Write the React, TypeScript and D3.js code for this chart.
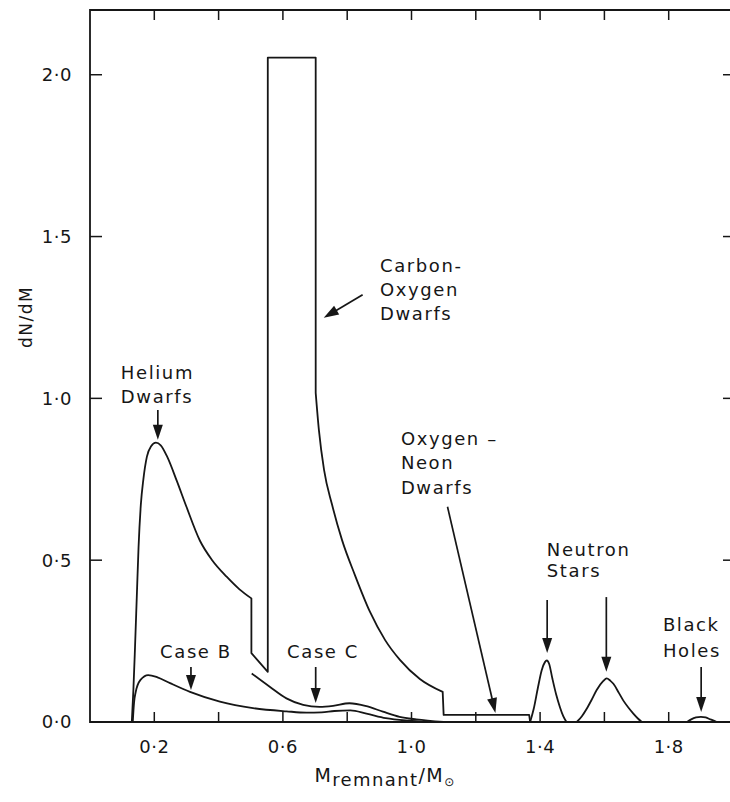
import React from "react";
import * as d3 from "d3";

type Pt = [number, number];

const WIDTH = 730;
const HEIGHT = 802;

// axis extents (remnant mass in solar masses, dN/dM)
const xDomain: Pt = [0, 2.0];
const yDomain: Pt = [0, 2.2];
const xTicks = [0.2, 0.4, 0.6, 0.8, 1.0, 1.2, 1.4, 1.6, 1.8];
const xTickLabels = [0.2, 0.6, 1.0, 1.4, 1.8];
const yTicks = [0, 0.5, 1.0, 1.5, 2.0];

// total remnant distribution: helium dwarf hump
const heliumHump: Pt[] = [
  [0.13, 0], [0.135, 0.1], [0.14, 0.23], [0.146, 0.4], [0.151, 0.54],
  [0.158, 0.67], [0.166, 0.75], [0.177, 0.82], [0.19, 0.852], [0.205, 0.863],
  [0.22, 0.855], [0.24, 0.82], [0.27, 0.745], [0.3, 0.665], [0.342, 0.56],
  [0.38, 0.5], [0.425, 0.449], [0.465, 0.41], [0.502, 0.382],
];
// step down at 0.5 and the carbon-oxygen plateau
const coPlateau: Pt[] = [
  [0.502, 0.382], [0.502, 0.213], [0.553, 0.155], [0.553, 2.053],
  [0.702, 2.053], [0.702, 1.017],
];
// carbon-oxygen tail
const coTail: Pt[] = [
  [0.702, 1.017], [0.712, 0.902], [0.728, 0.779], [0.753, 0.671],
  [0.784, 0.562], [0.824, 0.454], [0.871, 0.34], [0.918, 0.253],
  [0.964, 0.192], [1.026, 0.133], [1.097, 0.093],
];
// oxygen-neon dwarf shelf
const oneShelf: Pt[] = [
  [1.097, 0.093], [1.1, 0.022], [1.366, 0.022], [1.369, 0],
];

// case B contribution
const caseB: Pt[] = [
  [0.133, 0], [0.137, 0.06], [0.142, 0.092], [0.157, 0.13], [0.181, 0.145],
  [0.21, 0.138], [0.249, 0.12], [0.311, 0.093], [0.404, 0.063], [0.507, 0.043],
  [0.611, 0.033], [0.673, 0.029], [0.72, 0.03], [0.76, 0.034], [0.81, 0.036],
  [0.86, 0.026], [0.92, 0.012], [0.99, 0.004], [1.05, 0],
];
// case C contribution
const caseC: Pt[] = [
  [0.503, 0.15], [0.559, 0.109], [0.611, 0.073], [0.663, 0.053], [0.714, 0.047],
  [0.756, 0.05], [0.807, 0.058], [0.86, 0.049], [0.911, 0.032], [0.963, 0.016],
  [1.015, 0.008], [1.1, 0],
];

// neutron stars and black holes
const neutronLow: Pt[] = [
  [1.369, 0], [1.38, 0.04], [1.393, 0.105], [1.405, 0.16], [1.415, 0.185],
  [1.421, 0.19], [1.428, 0.18], [1.438, 0.135], [1.45, 0.085], [1.462, 0.045],
  [1.472, 0.018], [1.482, 0],
];
const neutronHigh: Pt[] = [
  [1.514, 0], [1.53, 0.018], [1.545, 0.041], [1.56, 0.068], [1.576, 0.099],
  [1.596, 0.126], [1.607, 0.135], [1.618, 0.128], [1.628, 0.118], [1.645, 0.09],
  [1.659, 0.066], [1.675, 0.044], [1.69, 0.026], [1.705, 0.01], [1.716, 0],
];
const blackHoles: Pt[] = [
  [1.857, 0], [1.87, 0.008], [1.885, 0.014], [1.9, 0.016], [1.915, 0.014],
  [1.93, 0.008], [1.95, 0],
];

// annotation arrows: [from, to] in data units
const arrows: [Pt, Pt][] = [
  [[0.211, 0.964], [0.211, 0.872]],
  [[0.314, 0.17], [0.314, 0.099]],
  [[0.702, 0.17], [0.702, 0.059]],
  [[0.848, 1.32], [0.727, 1.249]],
  [[1.112, 0.665], [1.261, 0.028]],
  [[1.422, 0.377], [1.422, 0.213]],
  [[1.606, 0.386], [1.606, 0.155]],
  [[1.901, 0.17], [1.901, 0.031]],
];

// labels: anchor (data units), text lines, line spacing (px)
const labelAnchors: Pt[] = [
  [0.096, 1.06], [0.218, 0.198], [0.613, 0.198], [0.902, 1.39],
  [0.967, 0.856], [1.421, 0.513], [1.782, 0.281],
];
const labelLines: string[][] = [
  ["Helium", "Dwarfs"],
  ["Case B"],
  ["Case C"],
  ["Carbon-", "Oxygen", "Dwarfs"],
  ["Oxygen –", "Neon", "Dwarfs"],
  ["Neutron", "Stars"],
  ["Black", "Holes"],
];
const labelSpacing = [24, 24, 24, 24, 24.5, 21, 26];

const x = d3.scaleLinear().domain(xDomain).range([90, 733]);
const y = d3.scaleLinear().domain(yDomain).range([722, 10]);

const smooth = d3
  .line<Pt>()
  .x((d) => x(d[0]))
  .y((d) => y(d[1]))
  .curve(d3.curveMonotoneX);
const straight = d3
  .line<Pt>()
  .x((d) => x(d[0]))
  .y((d) => y(d[1]));

const cont = (p: string | null) => (p ? "L" + p.slice(1) : "");

const totalPath =
  (smooth(heliumHump) || "") +
  cont(straight(coPlateau)) +
  cont(smooth(coTail)) +
  cont(straight(oneShelf));

const fmt = (v: number) => d3.format(".1f")(v).replace(".", "·");

const INK = "#161616";
const FONT = "'DejaVu Sans', sans-serif";

function Arrow({ from, to }: { from: Pt; to: Pt }) {
  const x1 = x(from[0]);
  const y1 = y(from[1]);
  const x2 = x(to[0]);
  const y2 = y(to[1]);
  const len = Math.hypot(x2 - x1, y2 - y1);
  const ux = (x2 - x1) / len;
  const uy = (y2 - y1) / len;
  const head = 15;
  const half = 5;
  const bx = x2 - ux * head;
  const by = y2 - uy * head;
  const pts = [
    [x2, y2],
    [bx - uy * half, by + ux * half],
    [bx + uy * half, by - ux * half],
  ]
    .map((p) => p.join(","))
    .join(" ");
  return (
    <g>
      <line x1={x1} y1={y1} x2={bx + ux * 2} y2={by + uy * 2} stroke={INK} strokeWidth={1.7} />
      <polygon points={pts} fill={INK} />
    </g>
  );
}

export default function App() {
  const [x0, x1] = x.range();
  const [y0, y1] = y.range();
  return (
    <svg
      width={WIDTH}
      height={HEIGHT}
      style={{ position: "absolute", left: 0, top: 0, background: "#fff" }}
      fontFamily={FONT}
    >
      <rect width={WIDTH} height={HEIGHT} fill="#fff" />
      {/* frame: top, left and bottom edges */}
      <path
        d={`M${x1},${y1}H${x0}V${y0}H${x1}`}
        fill="none"
        stroke={INK}
        strokeWidth={1.8}
      />
      {xTicks.map((t) => (
        <g key={"xt" + t}>
          <line x1={x(t)} x2={x(t)} y1={y0} y2={y0 - 10} stroke={INK} strokeWidth={1.5} />
          <line x1={x(t)} x2={x(t)} y1={y1} y2={y1 + 10} stroke={INK} strokeWidth={1.5} />
        </g>
      ))}
      {yTicks.map((t) => (
        <g key={"yt" + t}>
          <line x1={x0} x2={x0 + 12} y1={y(t)} y2={y(t)} stroke={INK} strokeWidth={1.5} />
          <line x1={x1} x2={x1 - 10} y1={y(t)} y2={y(t)} stroke={INK} strokeWidth={1.5} />
          <text x={72} y={y(t)} dy="0.36em" textAnchor="end" fontSize={18} letterSpacing={0.5} fill={INK}>
            {fmt(t)}
          </text>
        </g>
      ))}
      {xTickLabels.map((t) => (
        <text key={"xl" + t} x={x(t)} y={753} textAnchor="middle" fontSize={18} letterSpacing={0.5} fill={INK}>
          {fmt(t)}
        </text>
      ))}
      <text
        transform="translate(32,317) rotate(-90)"
        textAnchor="middle"
        fontSize={17}
        letterSpacing={1.5}
        fill={INK}
      >
        dN/dM
      </text>
      <text x={385} y={782} textAnchor="middle" fontSize={19} fill={INK} letterSpacing={1.4}>
        <tspan>M</tspan>
        <tspan dy={4} fontSize={18}>remnant</tspan>
        <tspan dy={-4}>/M</tspan>
        <tspan dy={4} fontSize={12}>⊙</tspan>
      </text>

      {/* distributions */}
      <g fill="none" stroke={INK} strokeWidth={1.8} strokeLinejoin="round">
        <path d={totalPath} />
        <path d={smooth(caseB) || ""} />
        <path d={smooth(caseC) || ""} />
        <path d={smooth(neutronLow) || ""} />
        <path d={smooth(neutronHigh) || ""} />
        <path d={smooth(blackHoles) || ""} />
      </g>

      {arrows.map((a, i) => (
        <Arrow key={"a" + i} from={a[0]} to={a[1]} />
      ))}

      {labelAnchors.map((p, i) => (
        <text key={"lb" + i} x={x(p[0])} y={y(p[1])} fontSize={18} letterSpacing={1.6} fill={INK}>
          {labelLines[i].map((s, j) => (
            <tspan key={j} x={x(p[0])} dy={j === 0 ? 0 : labelSpacing[i]}>
              {s}
            </tspan>
          ))}
        </text>
      ))}
    </svg>
  );
}
